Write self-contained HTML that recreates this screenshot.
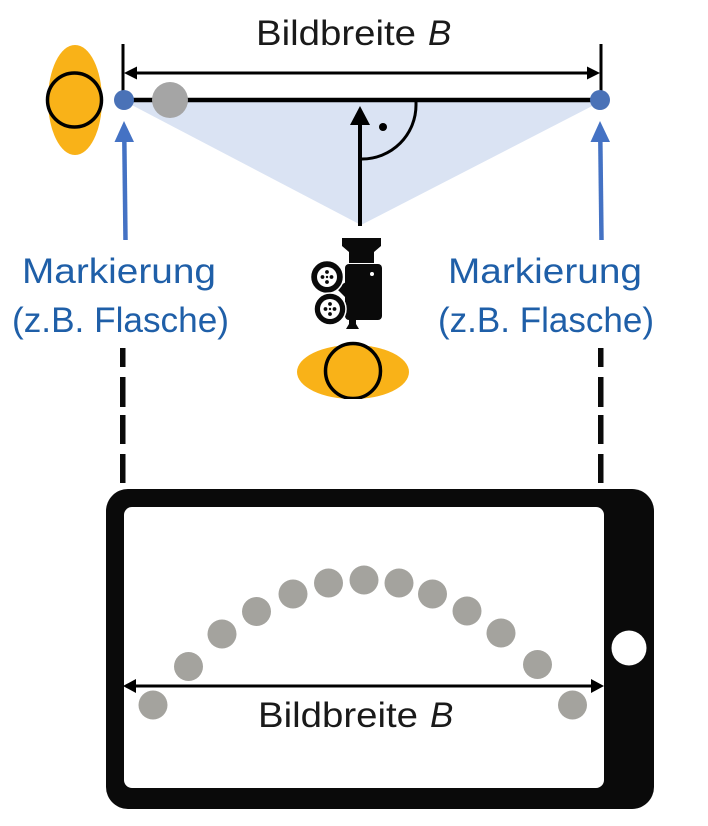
<!DOCTYPE html>
<html><head><meta charset="utf-8"><style>
html,body{margin:0;padding:0;background:#fff;}
svg{display:block;}
text{font-family:"Liberation Sans",sans-serif;}
</style></head><body>
<svg width="708" height="826" viewBox="0 0 708 826" xmlns="http://www.w3.org/2000/svg">
<!-- top label -->
<text x="256" y="45" font-size="35" fill="#1a1a1a" textLength="160" lengthAdjust="spacingAndGlyphs">Bildbreite</text>
<text x="428" y="45" font-size="35" font-style="italic" fill="#1a1a1a">B</text>
<!-- dimension ticks -->
<line x1="123" y1="44" x2="123" y2="100" stroke="#000" stroke-width="3"/>
<line x1="601" y1="44" x2="601" y2="100" stroke="#000" stroke-width="3"/>
<!-- dimension arrow -->
<line x1="134" y1="73" x2="590" y2="73" stroke="#000" stroke-width="3"/>
<polygon points="124,73 137,66.5 137,79.5" fill="#000"/>
<polygon points="600,73 587,66.5 587,79.5" fill="#000"/>
<!-- light blue triangle -->
<polygon points="126,102 600,102 361,225" fill="#dae3f3"/>
<!-- thick line -->
<line x1="124" y1="100" x2="600" y2="100" stroke="#000" stroke-width="4.5"/>
<!-- right angle -->
<path d="M416,99 L416,105 A54,54 0 0 1 362,159" fill="none" stroke="#000" stroke-width="3"/>
<circle cx="383" cy="127" r="4" fill="#000"/>
<!-- vertical arrow -->
<line x1="360" y1="226" x2="360" y2="122" stroke="#000" stroke-width="4"/>
<polygon points="360,106 350,125 370,125" fill="#000"/>
<!-- gray ball -->
<circle cx="170" cy="100" r="18" fill="#a5a5a5"/>
<!-- blue markers -->
<circle cx="124" cy="100" r="10" fill="#4a72b7"/>
<circle cx="600" cy="100" r="10" fill="#4a72b7"/>
<!-- left person -->
<ellipse cx="75" cy="100" rx="27" ry="55" fill="#f9b218"/>
<circle cx="74.5" cy="100" r="27" fill="#f9b218" stroke="#000" stroke-width="3.5"/>
<!-- blue arrows -->
<line x1="125.5" y1="240" x2="124.3" y2="138" stroke="#4472c4" stroke-width="4.5"/>
<polygon points="124,121 114.5,142 134,142" fill="#4472c4"/>
<line x1="601.5" y1="240" x2="600.3" y2="138" stroke="#4472c4" stroke-width="4.5"/>
<polygon points="600,121 590.5,142 610,142" fill="#4472c4"/>
<!-- blue labels -->
<text x="22" y="283" font-size="35" fill="#1f5fa8" textLength="194" lengthAdjust="spacingAndGlyphs">Markierung</text>
<text x="12" y="332" font-size="35" fill="#1f5fa8" textLength="217" lengthAdjust="spacingAndGlyphs">(z.B. Flasche)</text>
<text x="448" y="283" font-size="35" fill="#1f5fa8" textLength="194" lengthAdjust="spacingAndGlyphs">Markierung</text>
<text x="438" y="332" font-size="35" fill="#1f5fa8" textLength="216" lengthAdjust="spacingAndGlyphs">(z.B. Flasche)</text>
<!-- camera -->
<polygon points="342,238 381,238 381,246 374,252 374,263 349,263 349,252 342,246" fill="#0a0a0a"/>
<rect x="345" y="264" width="37" height="56" rx="4" fill="#0a0a0a"/>
<polygon points="349,318 356,318 356,324 359,329 346,329 349,324" fill="#0a0a0a"/>
<polygon points="336,288 346,282 346,298" fill="#0a0a0a"/>
<circle cx="327" cy="277" r="16.5" fill="#0a0a0a" stroke="#fff" stroke-width="1.5"/>
<circle cx="327" cy="277" r="10" fill="#fff"/>
<circle cx="330" cy="309" r="16" fill="#0a0a0a" stroke="#fff" stroke-width="1.5"/>
<circle cx="330" cy="309" r="10" fill="#fff"/>
<g fill="#0a0a0a">
<circle cx="327" cy="272" r="1.9"/><circle cx="322.5" cy="277" r="1.9"/><circle cx="331.5" cy="277" r="1.9"/><circle cx="327" cy="282" r="1.9"/><circle cx="327" cy="277" r="1.2"/>
<circle cx="330" cy="304" r="1.9"/><circle cx="325.5" cy="309" r="1.9"/><circle cx="334.5" cy="309" r="1.9"/><circle cx="330" cy="314" r="1.9"/><circle cx="330" cy="309" r="1.2"/>
</g>
<circle cx="372" cy="274" r="2" fill="#fff"/>
<!-- bottom person -->
<ellipse cx="353" cy="372" rx="56" ry="27" fill="#f9b218"/>
<circle cx="353" cy="371" r="27.5" fill="#f9b218" stroke="#000" stroke-width="3.5"/>
<rect x="280" y="399" width="150" height="10" fill="#fff"/>
<!-- dashed lines -->
<g fill="#0a0a0a">
<rect x="120" y="348" width="5.5" height="19"/><rect x="120" y="377" width="5.5" height="30"/><rect x="120" y="415" width="5.5" height="29"/><rect x="120" y="454" width="5.5" height="29"/>
<rect x="598" y="348" width="5.5" height="19"/><rect x="598" y="377" width="5.5" height="30"/><rect x="598" y="415" width="5.5" height="29"/><rect x="598" y="454" width="5.5" height="29"/>
</g>
<!-- tablet -->
<rect x="106" y="489" width="548" height="320" rx="22" fill="#0a0a0a"/>
<rect x="124" y="507" width="480" height="281" rx="8" fill="#fff"/>
<circle cx="629" cy="648" r="17.5" fill="#fff"/>
<!-- trajectory dots -->
<g fill="#a4a39e">
<circle cx="153" cy="705" r="14.5"/>
<circle cx="188.5" cy="666.5" r="14.5"/>
<circle cx="222" cy="634" r="14.5"/>
<circle cx="256.5" cy="611.5" r="14.5"/>
<circle cx="293" cy="594" r="14.5"/>
<circle cx="328.5" cy="583" r="14.5"/>
<circle cx="364" cy="580" r="14.5"/>
<circle cx="399" cy="583" r="14.5"/>
<circle cx="432.5" cy="594" r="14.5"/>
<circle cx="467" cy="611" r="14.5"/>
<circle cx="501" cy="633" r="14.5"/>
<circle cx="537.5" cy="664.5" r="14.5"/>
<circle cx="572.5" cy="705" r="14.5"/>
</g>
<!-- screen arrow -->
<line x1="133" y1="686" x2="594" y2="686" stroke="#000" stroke-width="3"/>
<polygon points="123,686 136,679 136,693" fill="#000"/>
<polygon points="604,686 591,679 591,693" fill="#000"/>
<text x="258" y="727" font-size="35" fill="#1a1a1a" textLength="160" lengthAdjust="spacingAndGlyphs">Bildbreite</text>
<text x="430" y="727" font-size="35" font-style="italic" fill="#1a1a1a">B</text>
</svg>
</body></html>
